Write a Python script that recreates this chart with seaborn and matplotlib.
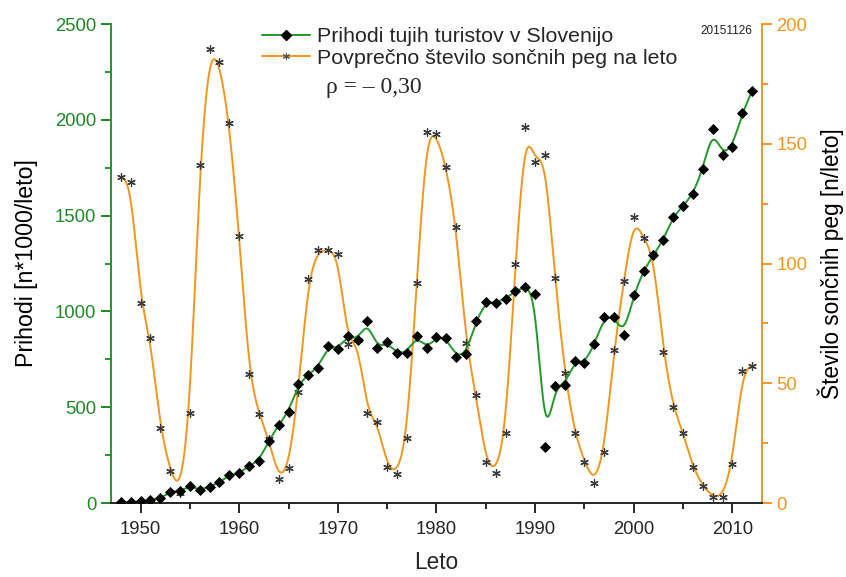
import numpy as np
import matplotlib
matplotlib.use("Agg")
import matplotlib.pyplot as plt
from matplotlib.lines import Line2D
from matplotlib.ticker import MultipleLocator
import seaborn as sns

# leta 1948-2012
years = list(range(1948, 2013))

# prihodi tujih turistov (x1000)
arrivals = [5, 5, 10, 15, 25, 57, 64, 89, 68, 85,
            108, 146, 155, 193, 221, 325, 407, 477, 620, 670,
            707, 818, 804, 873, 851, 950, 807, 839, 781, 785,
            873, 807, 865, 860, 764, 778, 950, 1048, 1046, 1065,
            1107, 1129, 1089, 294, 610, 616, 741, 729, 828, 969,
            973, 877, 1086, 1213, 1295, 1373, 1495, 1550, 1613, 1743,
            1952, 1816, 1860, 2034, 2151]

# povprecno stevilo soncnih peg
sunspots = [136.0, 134.2, 83.6, 68.8, 31.2, 13.5, 4.0, 37.4, 141.1, 189.5,
            184.3, 158.5, 111.6, 53.7, 37.2, 26.7, 9.9, 14.7, 46.5, 93.4,
            105.6, 105.6, 104.0, 66.4, 68.0, 37.4, 33.9, 15.2, 12.1, 27.0,
            92.0, 154.8, 153.9, 140.1, 115.4, 66.7, 45.1, 17.3, 12.7, 29.1,
            99.7, 157.1, 142.2, 145.3, 94.1, 54.4, 29.4, 17.3, 8.2, 21.2,
            63.9, 92.7, 119.3, 110.5, 104.0, 63.2, 40.0, 29.4, 14.9, 7.1,
            2.6, 2.6, 16.3, 55.1, 57.2]

label_green = "Prihodi tujih turistov v Slovenijo"
label_orange = "Povprečno število sončnih peg na leto"

GREEN = "#1f9a2a"
GREEN_TXT = "#1c8a24"
ORANGE = "#f4961e"


def bspline(xv, yv, n=30):
    # kubicni B-spline, tocke so kontrolne tocke (kot v Originu)
    px = np.r_[[xv[0]] * 2, xv, [xv[-1]] * 2].astype(float)
    py = np.r_[[yv[0]] * 2, yv, [yv[-1]] * 2].astype(float)
    t = np.linspace(0, 1, n, endpoint=False)
    b0 = (1 - t) ** 3 / 6
    b1 = (3 * t ** 3 - 6 * t ** 2 + 4) / 6
    b2 = (-3 * t ** 3 + 3 * t ** 2 + 3 * t + 1) / 6
    b3 = t ** 3 / 6
    xs, ys = [], []
    for i in range(len(px) - 3):
        xs.append(b0 * px[i] + b1 * px[i + 1] + b2 * px[i + 2] + b3 * px[i + 3])
        ys.append(b0 * py[i] + b1 * py[i + 1] + b2 * py[i + 2] + b3 * py[i + 3])
    xs.append([xv[-1]])
    ys.append([yv[-1]])
    return np.concatenate(xs), np.concatenate(ys)


sns.set_style("ticks")
plt.rcParams['font.family'] = ['Liberation Sans', 'DejaVu Sans']

fig = plt.figure(figsize=(8.46, 5.77), dpi=100)
ax = fig.add_axes([0.1312, 0.1282, 0.7695, 0.8302])
ax2 = ax.twinx()

gx, gy = bspline(years, arrivals)
ox, oy = bspline(years, sunspots)

sns.lineplot(x=ox, y=oy, ax=ax2, color=ORANGE, lw=1.4, sort=False, estimator=None)
sns.scatterplot(x=years, y=sunspots, ax=ax2, marker=(6, 2, 0), color="#3a3a3a",
                s=30, linewidth=0.9, zorder=3)

sns.lineplot(x=gx, y=gy, ax=ax, color=GREEN, lw=1.4, sort=False, estimator=None)
sns.scatterplot(x=years, y=arrivals, ax=ax, marker="D", color="black",
                s=32, linewidth=0, zorder=4)

ax.set_zorder(ax2.get_zorder() + 1)
ax.patch.set_visible(False)

ax.set_xlim(1947, 2013)
ax.set_ylim(0, 2500)
ax2.set_ylim(0, 200)

ax.xaxis.set_major_locator(MultipleLocator(10))
ax.xaxis.set_minor_locator(MultipleLocator(5))
ax.yaxis.set_major_locator(MultipleLocator(500))
ax.yaxis.set_minor_locator(MultipleLocator(250))
ax2.yaxis.set_major_locator(MultipleLocator(50))
ax2.yaxis.set_minor_locator(MultipleLocator(25))

for a in (ax, ax2):
    a.spines['top'].set_visible(False)
ax.spines['right'].set_visible(False)
ax2.spines['left'].set_visible(False)
ax2.spines['bottom'].set_visible(False)
ax.spines['left'].set_color(GREEN)
ax2.spines['right'].set_color(ORANGE)
for s in ('left', 'bottom'):
    ax.spines[s].set_linewidth(1.4)
ax2.spines['right'].set_linewidth(1.4)

ax.tick_params(axis='x', which='major', length=7, width=1.4, labelsize=13.3,
               direction='out', pad=6)
ax.tick_params(axis='x', which='minor', length=4.3, width=1.4, direction='out')
ax.tick_params(axis='y', which='major', length=7, width=1.4, labelsize=13.3,
               colors=GREEN_TXT, direction='out')
ax.tick_params(axis='y', which='minor', length=4.3, width=1.4, colors=GREEN, direction='out')
ax2.tick_params(axis='y', which='major', length=7, width=1.4, labelsize=13.3,
                colors=ORANGE, direction='out')
ax2.tick_params(axis='y', which='minor', length=4.3, width=1.4, colors=ORANGE, direction='out')

ax.set_xlabel("Leto", fontsize=16.3, labelpad=9)
ax.set_ylabel("Prihodi [n*1000/leto]", fontsize=16.7, labelpad=12)
ax2.set_ylabel("Število sončnih peg [n/leto]", fontsize=16.3, labelpad=7)
ax.yaxis.label.set_color("black")
ax2.yaxis.label.set_color("black")

handles = [
    Line2D([], [], color=GREEN, lw=1.4, marker="D", markersize=5,
           markerfacecolor="black", markeredgecolor="black"),
    Line2D([], [], color=ORANGE, lw=1.4, marker=(6, 2, 0), markersize=5,
           markeredgecolor="#555555", markeredgewidth=0.8),
]
fig.legend(handles, [label_green, label_orange], loc="upper left",
           bbox_to_anchor=(262 / 846, 1 - 27 / 577), frameon=False, fontsize=15.4,
           handlelength=2.25, handletextpad=0.33, labelspacing=0.12,
           borderpad=0, borderaxespad=0)

fig.text(374 / 846, 1 - 87 / 577, "ρ = – 0,30", family=['Liberation Serif', 'DejaVu Serif'],
         fontsize=17, ha="center", va="center")
fig.text(752 / 846, 1 - 31 / 577, "20151126", fontsize=8.5, ha="right", va="center",
         color="#222222")

fig.savefig("out.png", dpi=100)
